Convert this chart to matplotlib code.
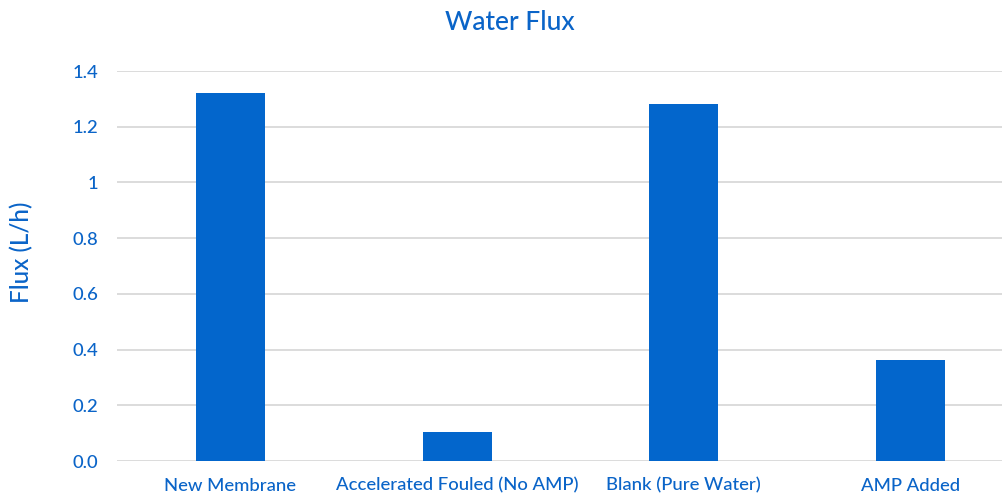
import matplotlib
matplotlib.use("Agg")
import matplotlib.pyplot as plt
from matplotlib.ticker import FixedLocator

categories = ["New Membrane", "Accelerated Fouled (No AMP)", "Blank (Pure Water)", "AMP Added"]
flux = [1.32, 0.104, 1.28, 0.362]
y_ticks = [0.0, 0.2, 0.4, 0.6, 0.8, 1.0, 1.2, 1.4]
y_tick_labels = ["0.0", "0.2", "0.4", "0.6", "0.8", "1", "1.2", "1.4"]

blue = "#0366CC"
text_blue = "#0A64C8"
plt.rcParams["font.family"] = ["Lato", "DejaVu Sans"]
plt.rcParams["font.weight"] = "medium"

W, H = 1003, 495
fig = plt.figure(figsize=(W / 100, H / 100), dpi=100)
ax = fig.add_axes([117 / W, 1 - 461 / H, (1024 - 117) / W, (461 - 71) / H])

x = range(len(categories))
ax.bar(x, flux, width=0.305, color=blue, zorder=3)
ax.set_xlim(-0.5, len(categories) - 0.5)
ax.set_ylim(0, 1.4)
ax.yaxis.set_major_locator(FixedLocator(y_ticks))
ax.set_yticklabels(y_tick_labels)
ax.set_xticks(list(x))
ax.set_xticklabels(categories)

ax.grid(axis="y", color="#D9D9D9", linewidth=1.3, zorder=0)
for s in ax.spines.values():
    s.set_visible(False)
ax.tick_params(axis="both", length=0, colors=text_blue, labelsize=13.3)
ax.tick_params(axis="y", pad=13.5)
ax.tick_params(axis="x", pad=12)

fig.text(510 / W, 1 - 23 / H, "Water Flux", ha="center", va="center",
         color=text_blue, fontsize=19)
fig.text(22 / W, 1 - 252 / H, "Flux (L/h)", ha="center", va="center",
         rotation=90, color=text_blue, fontsize=17.5)

fig.savefig("out.png", dpi=100)
